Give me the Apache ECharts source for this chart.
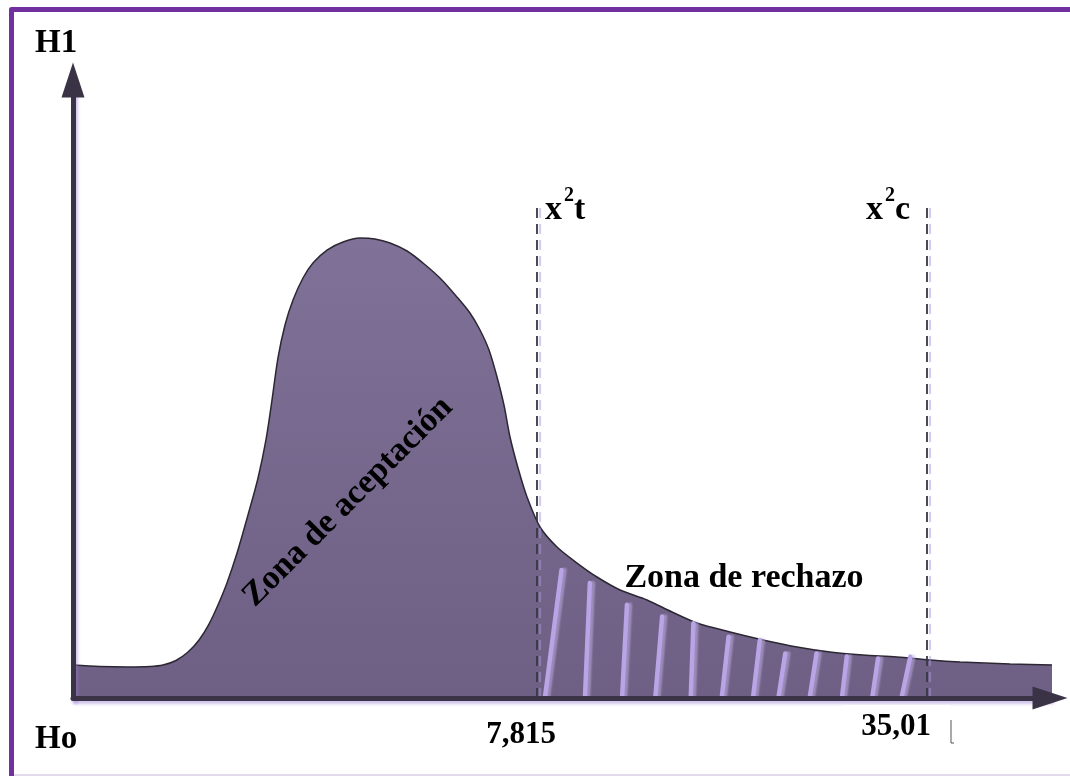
<!DOCTYPE html>
<html>
<head>
<meta charset="utf-8">
<script src="https://cdn.jsdelivr.net/npm/echarts@6/dist/echarts.min.js"></script>
<style>
html,body{margin:0;padding:0;background:#fff;}
#chart{width:1070px;height:776px;}
</style>
</head>
<body>
<div id="chart"></div>
<script>
// Curve (conceptual chi-square density), abstract units 0..100
var curveX = [0, 2.76, 5.53, 7.88, 9.21, 10.54, 11.77, 12.90, 13.92, 14.84, 15.76, 16.79, 17.91, 18.94, 19.75, 20.37, 20.98, 21.70, 22.52, 23.54, 24.56, 26.00, 27.64, 29.38, 30.91, 32.45, 34.19, 35.82, 37.56, 39.30, 40.63, 41.66, 42.58, 43.40, 44.11, 44.73, 45.55, 46.47, 47.80, 49.54, 51.59, 53.63, 55.99, 58.75, 61.31, 63.87, 67.25, 70.62, 74.10, 77.48, 80.86, 84.34, 87.72, 90.79, 95.91, 100.82];
var curveY = [5.34, 5.10, 5.02, 5.10, 5.34, 6.07, 7.44, 9.39, 11.97, 15.05, 18.61, 23.46, 29.61, 35.60, 41.75, 48.22, 55.02, 60.36, 64.40, 67.96, 70.39, 72.49, 73.79, 74.43, 74.27, 73.62, 72.33, 70.39, 67.96, 64.89, 62.30, 59.55, 56.31, 51.94, 47.41, 42.23, 37.22, 32.52, 27.67, 24.43, 21.84, 19.58, 17.48, 15.86, 13.92, 12.14, 10.68, 9.39, 8.25, 7.44, 6.96, 6.63, 6.15, 5.83, 5.50, 5.34];
// critical values (dashed lines)
var critX = [47.5, 87.4];
var critTop = [79.8, 79.8];
var critLabels = ['7,815', '35,01'];
// hatch strokes in the rejection zone
var hatchTopX = [50.0, 52.9, 56.7, 60.3, 63.5, 67.1, 70.3, 72.9, 76.1, 79.2, 82.4, 85.7];
var hatchTopY = [20.7, 18.6, 15.1, 13.2, 12.1, 9.9, 9.4, 7.2, 7.2, 6.7, 6.4, 6.7];
var hatchBotX = [48.3, 52.4, 56.2, 59.6, 63.2, 66.4, 69.6, 72.2, 75.4, 78.7, 81.8, 84.8];
var hatchBotY = [0, 0, 0, 0, -1.2, 0, 0, 0, 0, 0, 0, 0];

var curveData = curveX.map(function (x, i) { return [x, curveY[i]]; });
var lastX = curveX[curveX.length - 1], lastY = curveY[curveY.length - 1];
var hatchData = hatchTopX.map(function (x, i) {
  return { coords: [[hatchBotX[i], hatchBotY[i]], [x, hatchTopY[i]]] };
});
var critData = critX.map(function (x, i) { return { coords: [[x, 0], [x, critTop[i]]] }; });

var serif = '"Liberation Serif", "Times New Roman", "DejaVu Serif", serif';
function txt(t, x, y, size, align, extra) {
  var o = {
    type: 'text', z: 100, x: x, y: y,
    style: { text: t, font: 'bold ' + size + 'px ' + serif, fill: '#000', align: align || 'left', verticalAlign: 'middle' }
  };
  if (extra) for (var k in extra) o[k] = extra[k];
  return o;
}

var chart = echarts.init(document.getElementById('chart'), null, { renderer: 'canvas' });
var axisLineStyle = { color: '#3a3346', width: 5, shadowColor: 'rgba(150,120,210,0.45)', shadowBlur: 3, shadowOffsetX: 2, shadowOffsetY: 3 };
chart.setOption({
  animation: false,
  backgroundColor: '#fff',
  grid: { left: 73, right: 20, top: 80, bottom: 78 },
  xAxis: {
    type: 'value', min: 0, max: 100, z: 5,
    axisLine: { show: true, symbol: ['none', 'triangle'], symbolSize: [23, 35], lineStyle: axisLineStyle },
    axisTick: { show: false }, axisLabel: { show: false }, splitLine: { show: false }
  },
  yAxis: {
    type: 'value', min: 0, max: 100, z: 5,
    axisLine: { show: true, symbol: ['none', 'triangle'], symbolSize: [23, 35], lineStyle: axisLineStyle },
    axisTick: { show: false }, axisLabel: { show: false }, splitLine: { show: false }
  },
  series: [
    {
      type: 'line', data: curveData, smooth: 0.3, symbol: 'none', clip: false, z: 2,
      lineStyle: { color: '#2c2733', width: 1.5 },
      areaStyle: {
        opacity: 1,
        color: new echarts.graphic.LinearGradient(0, 0, 0, 1, [
          { offset: 0, color: '#7f7197' }, { offset: 1, color: '#6e6084' }
        ])
      }
    },
    {
      type: 'line', data: [[lastX, lastY], [lastX, 0]], symbol: 'none', clip: false, z: 2,
      lineStyle: { color: '#2c2733', width: 1.5 }
    },
    {
      type: 'lines', coordinateSystem: 'cartesian2d', data: hatchData, z: 3, silent: true,
      lineStyle: { color: '#b9a4e6', width: 4.5, opacity: 1, cap: 'round', shadowColor: 'rgba(200,185,240,0.5)', shadowBlur: 2, shadowOffsetX: 3 }
    },
    {
      type: 'lines', coordinateSystem: 'cartesian2d', data: critData, z: 4, silent: true,
      lineStyle: { color: '#383845', width: 1.8, type: [10, 6], opacity: 1, shadowColor: 'rgba(170,150,220,0.6)', shadowBlur: 1, shadowOffsetX: 3 }
    }
  ],
  graphic: [
    { type: 'polyline', z: 90, shape: { points: [[11.5, 780], [11.5, 9.5], [1080, 9.5]] }, style: { stroke: '#7030a0', lineWidth: 5, fill: null, lineJoin: 'round' } },
    { type: 'line', z: 90, shape: { x1: 14, y1: 775, x2: 1070, y2: 775 }, style: { stroke: '#d9cde6', lineWidth: 1.5 } },
    { type: 'rect', z: 50, shape: { x: 843, y: 705, width: 107, height: 50 }, style: { fill: '#fff' } },
    { type: 'polyline', z: 90, shape: { points: [[951, 720], [951, 743], [954, 743]] }, style: { stroke: '#555', lineWidth: 1, fill: null } },
    txt('H1', 35, 43, 33),
    txt('Ho', 35, 739, 33),
    txt(critLabels[0], 521, 735, 31, 'center'),
    txt(critLabels[1], 896, 727, 31, 'center'),
    txt('x', 545, 210, 34), txt('2', 564, 196, 20), txt('t', 574, 210, 34),
    txt('x', 866, 210, 34), txt('2', 885, 196, 20), txt('c', 895, 210, 34),
    txt('Zona de rechazo', 744, 578, 34, 'center'),
    txt('Zona de aceptación', 348, 502, 34, 'center', { rotation: Math.PI / 4 })
  ]
});
</script>
</body>
</html>
